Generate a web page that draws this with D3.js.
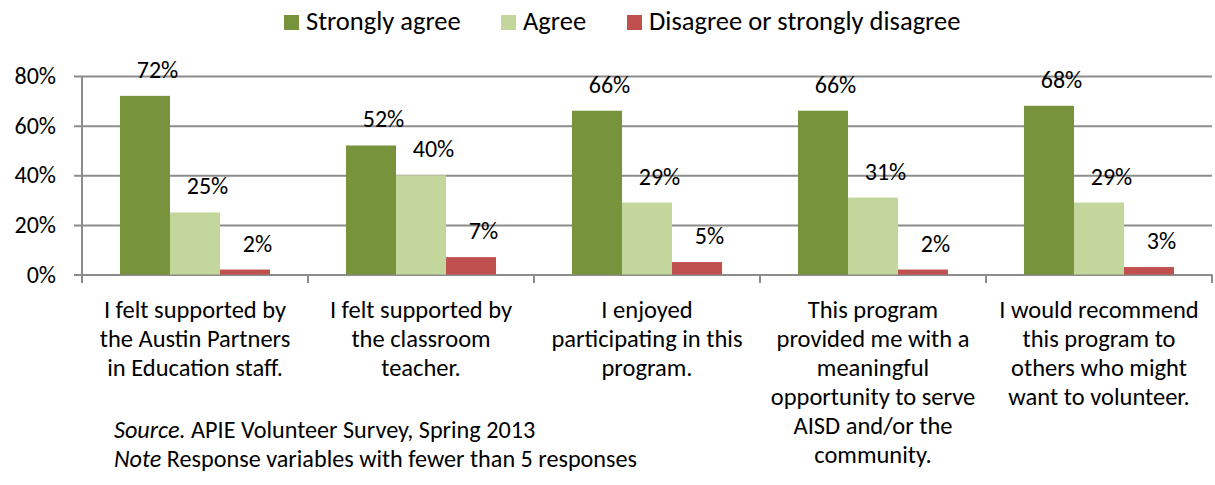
<!DOCTYPE html>
<html>
<head>
<meta charset="utf-8">
<script src="https://cdn.jsdelivr.net/npm/d3@7"></script>
<style>
  html, body { margin: 0; padding: 0; background: #fff; }
  svg { display: block; }
  text { font-family: Carlito, Calibri, Lato, "Liberation Sans", sans-serif; fill: #000; }
</style>
</head>
<body>
<svg id="chart" width="1215" height="485"></svg>
<script>
// Survey statements (label lines as wrapped in the category axis)
const categories = [
  ["I felt supported by", "the Austin Partners", "in Education staff."],
  ["I felt supported by", "the classroom", "teacher."],
  ["I enjoyed", "participating in this", "program."],
  ["This program", "provided me with a", "meaningful", "opportunity to serve", "AISD and/or the", "community."],
  ["I would recommend", "this program to", "others who might", "want to volunteer."]
];
const seriesNames = ["Strongly agree", "Agree", "Disagree or strongly disagree"];
const stronglyAgree = [72, 52, 66, 66, 68];
const agree = [25, 40, 29, 31, 29];
const disagree = [2, 7, 5, 2, 3];
const yTicks = [0, 20, 40, 60, 80];
const colors = ["#77933C", "#C3D69B", "#C0504D"];

const seriesValues = [stronglyAgree, agree, disagree];
const rows = categories.map((c, i) => ({
  key: i,
  lines: c,
  values: seriesValues.map((s, j) => ({ series: j, value: s[i] }))
}));

// Font sizes
const FS_AXIS = 24;
const FS_VALUE = 24;
const FS_CAT = 24.5;
const FS_LEGEND = 26.5;
const FS_NOTE = 24.2;

const svg = d3.select("#chart");

const plotLeft = 82, plotRight = 1212, plotTop = 76, plotBottom = 274.5;

const x0 = d3.scaleBand()
  .domain(rows.map(d => d.key))
  .range([plotLeft, plotRight])
  .paddingInner(0.336)
  .paddingOuter(0.168);
const x1 = d3.scaleBand()
  .domain(seriesNames.map((d, i) => i))
  .range([0, x0.bandwidth()]);
const y = d3.scaleLinear().domain([0, 80]).range([plotBottom, plotTop]);

const gridColor = "#8c8c8c";

// Horizontal gridlines with left ticks and percent labels
const yAxis = svg.append("g")
  .attr("transform", `translate(${plotLeft},0)`)
  .call(d3.axisLeft(y).tickValues(yTicks).tickFormat(d => d + "%")
    .tickSize(-(plotRight - plotLeft)).tickPadding(26));
yAxis.select(".domain").remove();
yAxis.selectAll(".tick line")
  .attr("x1", -8)
  .attr("stroke", gridColor)
  .attr("stroke-width", 2);
yAxis.selectAll(".tick text")
  .attr("font-size", FS_AXIS)
  .attr("fill", "#000");
yAxis.attr("font-family", null).attr("font-size", null);

// Vertical axis line
svg.append("line")
  .attr("x1", plotLeft).attr("x2", plotLeft)
  .attr("y1", y(80)).attr("y2", plotBottom + 8.5)
  .attr("stroke", gridColor).attr("stroke-width", 2);

// Category boundary ticks under the baseline
const boundaries = d3.range(rows.length + 1).map(i => plotLeft + i * x0.step());
svg.append("g").selectAll("line")
  .data(boundaries)
  .join("line")
  .attr("x1", d => d).attr("x2", d => d)
  .attr("y1", plotBottom).attr("y2", plotBottom + 8.5)
  .attr("stroke", gridColor).attr("stroke-width", 2);

// Bars
const groups = svg.append("g").selectAll("g")
  .data(rows)
  .join("g")
  .attr("transform", d => `translate(${x0(d.key)},0)`);

groups.selectAll("rect")
  .data(d => d.values)
  .join("rect")
  .attr("x", d => x1(d.series))
  .attr("y", d => y(d.value))
  .attr("width", x1.bandwidth())
  .attr("height", d => plotBottom - y(d.value))
  .attr("fill", d => colors[d.series]);

// Value labels above bars
groups.selectAll("text.val")
  .data(d => d.values)
  .join("text")
  .attr("class", "val")
  .attr("x", d => x1(d.series) + x1.bandwidth() / 2 + 12.5)
  .attr("y", d => y(d.value) - 18)
  .attr("text-anchor", "middle")
  .attr("font-size", FS_VALUE)
  .text(d => d.value + "%");

// Category labels
const catLabels = svg.append("g").selectAll("text")
  .data(rows)
  .join("text")
  .attr("text-anchor", "middle")
  .attr("font-size", FS_CAT)
  .attr("x", d => x0(d.key) + x0.bandwidth() / 2)
  .attr("y", 318);
catLabels.selectAll("tspan")
  .data(d => d.lines.map(l => ({ l, x: x0(d.key) + x0.bandwidth() / 2 })))
  .join("tspan")
  .attr("x", d => d.x)
  .attr("dy", (d, i) => i === 0 ? 0 : 29)
  .text(d => d.l);

// Legend
const legendX = [284, 501, 627];
const legend = svg.append("g").selectAll("g")
  .data(seriesNames)
  .join("g")
  .attr("transform", (d, i) => `translate(${legendX[i]},15)`);
legend.append("rect")
  .attr("width", 15).attr("height", 15)
  .attr("fill", (d, i) => colors[i]);
legend.append("text")
  .attr("x", 22).attr("y", 15)
  .attr("font-size", FS_LEGEND)
  .text(d => d);

// Source and note
const notes = [
  { lead: "Source.", rest: " APIE Volunteer Survey, Spring 2013" },
  { lead: "Note", rest: " Response variables with fewer than 5 responses" }
];
const noteText = svg.append("g").selectAll("text")
  .data(notes)
  .join("text")
  .attr("x", 114)
  .attr("y", (d, i) => 438 + i * 29)
  .attr("font-size", FS_NOTE);
noteText.append("tspan").attr("font-style", "italic").text(d => d.lead);
noteText.append("tspan").text(d => d.rest);
</script>
</body>
</html>
